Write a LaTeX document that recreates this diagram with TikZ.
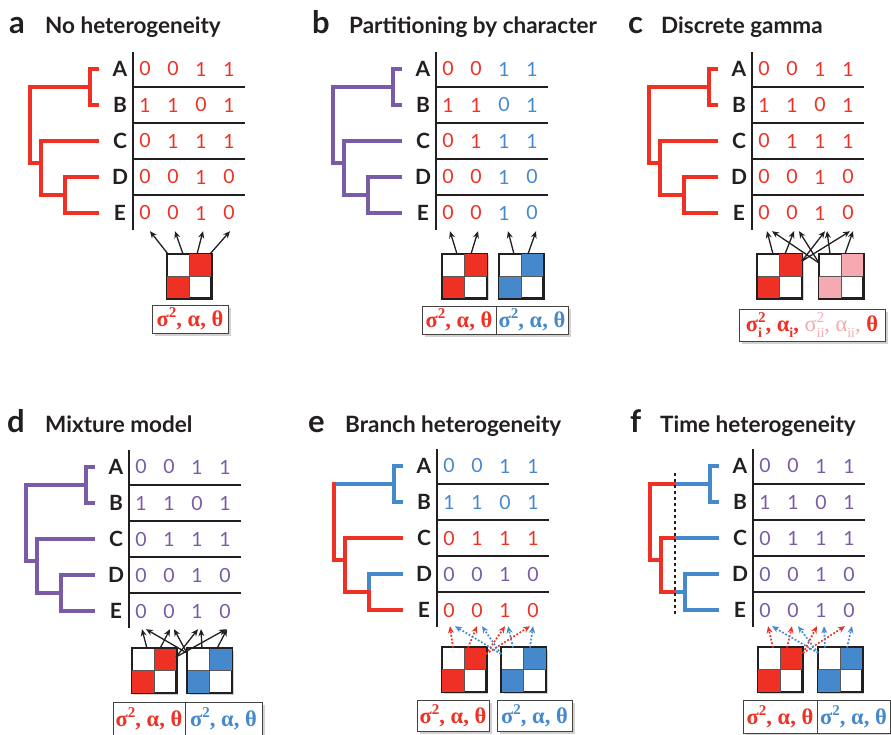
\documentclass[tikz,border=0pt]{standalone}
\usepackage{fontspec}
\setmainfont{Lato}
\newfontfamily\gfont{Liberation Serif}
\usetikzlibrary{arrows.meta,shadows}
\definecolor{ired}{RGB}{238,49,36}
\definecolor{iblue}{RGB}{69,137,204}
\definecolor{ipurple}{RGB}{122,91,168}
\definecolor{ipink}{RGB}{244,170,176}
\definecolor{ink}{RGB}{35,31,32}
\tikzset{
 tabline/.style={line width=1.2pt, draw=ink},
 treeline/.style={line width=4pt, line join=miter},
 tiplab/.style={font=\fontsize{21}{21}\selectfont\bfseries, text=ink, inner sep=0pt, anchor=center},
 digit/.style={font=\fontsize{19.5}{19.5}\selectfont, inner sep=0pt, minimum height=36pt, anchor=center},
 ptitle/.style={font=\fontsize{22.5}{22.5}\selectfont\bfseries, text=ink, inner sep=0pt, anchor=base west},
 pletter/.style={font=\fontsize{31}{31}\selectfont\bfseries, text=ink, inner sep=0pt, anchor=base west},
 qmat/.style={draw=ink, line width=1.5pt, fill=white, minimum size=44pt, inner sep=0pt,
   drop shadow={shadow xshift=2pt, shadow yshift=-2pt, opacity=0.35}},
 lbox/.style={draw=ink!85, line width=1pt, fill=white, inner sep=0pt,
   drop shadow={shadow xshift=2.5pt, shadow yshift=-2.5pt, opacity=0.35},
   font=\gfont\fontsize{22.5}{22.5}\selectfont\bfseries},
 arr/.style={draw=ink, line width=1.3pt, -{Stealth[length=7pt,width=6pt]}},
 darr/.style={line width=1.7pt, dash pattern=on 1.8pt off 1.8pt, -{Stealth[length=7pt,width=6pt]}},
}
\newcommand\sqr{\raisebox{0.42em}{\fontsize{15}{15}\selectfont 2}}
\newcommand\sbs[2]{\makebox[0pt][l]{\raisebox{-0.28em}{\fontsize{14}{14}\selectfont #1}}\raisebox{0.42em}{\fontsize{15}{15}\selectfont #2}}
\newcommand\sbo[1]{\raisebox{-0.28em}{\fontsize{14}{14}\selectfont #1}}
\newcommand\lab{σ\sqr, α, θ}
% table: #1 prefix, #2 row colours (left/right)
\newcommand\ptable[2]{%
 \draw[tabline] (0,-17) -- (0,161);
 \foreach \k in {1,...,4} \draw[tabline] (0,{36*\k-18}) -- (112,{36*\k-18});
 \foreach \L [count=\i from 0] in {A,B,C,D,E} \node[tiplab] (#1L\i) at (-13,{36*\i}) {\L};
 \foreach \lc/\rc [count=\i from 0] in {#2} {
   \ifcase\i \def\vals{0,0,1,1}\or\def\vals{1,1,0,1}\or\def\vals{0,1,1,1}\or\def\vals{0,0,1,0}\or\def\vals{0,0,1,0}\fi
   \foreach \v [count=\j] in \vals {
     \ifnum\j<3 \edef\cc{\lc}\else\edef\cc{\rc}\fi
     \node[digit, text=\cc] (#1d\i-\j) at ({28*\j-16},{36*\i}) {\v};
   }
 }
}
\newcommand\stdtree[1]{%
 \draw[treeline,#1] (-34,0) -- (-43,0) -- (-43,36) -- (-34,36);
 \draw[treeline,#1] (-43,18) -- (-103,18) -- (-103,94) -- (-92,94);
 \draw[treeline,#1] (-34,72) -- (-92,72) -- (-92,126) -- (-68,126);
 \draw[treeline,#1] (-34,108) -- (-68,108) -- (-68,144) -- (-34,144);
}
% matrix: name, x, y, colour
\newcommand\qm[4]{%
 \node[qmat] (#1) at (#2,#3) {};
 \fill[#4] (#1.north east) rectangle (#1.center);
 \fill[#4] (#1.south west) rectangle (#1.center);
 \draw[ink!75, line width=0.8pt] (#1.north) -- (#1.south) (#1.west) -- (#1.east);
 \draw[ink, line width=1.5pt] (#1.north west) rectangle (#1.south east);
}
\begin{document}
\begin{tikzpicture}[x=1pt,y=-1pt]
\fill[white] (0,0) rectangle (891,734);
\useasboundingbox (0,0) rectangle (891,734);

% titles
\node[pletter] (ta) at (9,33) {a};   \node[ptitle] (tta) at (45,33) {No heterogeneity};
\node[pletter] (tb) at (312,33) {b}; \node[ptitle] (ttb) at (349,33) {Partitioning by character};
\node[pletter] (tc) at (628,33) {c}; \node[ptitle] (ttc) at (661,33) {Discrete gamma};
\node[pletter] (td) at (7,432) {d};  \node[ptitle] (ttd) at (45,432) {Mixture model};
\node[pletter] (te) at (308,432) {e};\node[ptitle] (tte) at (345,432) {Branch heterogeneity};
\node[pletter] (tf) at (630,432) {f};\node[ptitle] (ttf) at (660,432) {Time heterogeneity};

% ---------- panel a
\begin{scope}[shift={(133,69)}]
 \stdtree{ired}
 \ptable{a}{ired/ired,ired/ired,ired/ired,ired/ired,ired/ired}
 \qm{aM}{56}{207}{ired}
 \coordinate (aS1) at (35,185); \coordinate (aS2) at (50,185);
 \coordinate (aS3) at (64,185); \coordinate (aS4) at (77,185);
 \draw[arr] (aS1) -- ([xshift=5pt]ad4-1.south);
 \draw[arr] (aS2) -- ([xshift=2pt]ad4-2.south);
 \draw[arr] (aS3) -- ([xshift=2pt]ad4-3.south);
 \draw[arr] (aS4) -- ([xshift=1pt]ad4-4.south);
 \node[lbox, minimum width=76pt, minimum height=28pt] (aP) at (57,250) {\textcolor{ired}{\lab}};
\end{scope}

% ---------- panel b
\begin{scope}[shift={(436,69)}]
 \stdtree{ipurple}
 \ptable{b}{ired/iblue,ired/iblue,ired/iblue,ired/iblue,ired/iblue}
 \qm{bM}{28.5}{207}{ired}
 \qm{bN}{85}{207}{iblue}
 \coordinate (bS1) at (21,185); \coordinate (bS2) at (35,185);
 \coordinate (bS3) at (78,185); \coordinate (bS4) at (92,185);
 \draw[arr] (bS1) -- ([xshift=2pt]bd4-1.south);
 \draw[arr] (bS2) -- ([xshift=2pt]bd4-2.south);
 \draw[arr] (bS3) -- ([xshift=4pt]bd4-3.south);
 \draw[arr] (bS4) -- ([xshift=4pt]bd4-4.south);
 \node[lbox, minimum width=74pt, minimum height=28pt] (bP) at (23,251) {\textcolor{ired}{\lab}};
 \node[lbox, minimum width=72pt, minimum height=28pt] (bQ) at (96,251) {\textcolor{iblue}{\lab}};
\end{scope}

% ---------- panel c
\begin{scope}[shift={(752,69)}]
 \stdtree{ired}
 \ptable{c}{ired/ired,ired/ired,ired/ired,ired/ired,ired/ired}
 \qm{cM}{27.5}{207}{ired}
 \qm{cN}{89}{207}{ipink}
 \coordinate (cS1) at (21,185); \coordinate (cS2) at (33,185);
 \coordinate (cS3) at (50,192);
 \coordinate (cT1) at (67,194); \coordinate (cT3) at (78,185); \coordinate (cT4) at (93,185);
 \draw[arr] (cS1) -- ([xshift=3pt]cd4-1.south);
 \draw[arr] (cS2) -- ([xshift=2pt]cd4-2.south);
 \draw[arr] (cS3) -- ([xshift=5pt]cd4-3.south);
 \draw[arr] (cS3) -- ([xshift=2pt]cd4-4.south);
 \draw[arr] (cT1) -- ([xshift=8pt]cd4-1.south);
 \draw[arr] (cT1) -- ([xshift=7pt]cd4-2.south);
 \draw[arr] (cT3) -- ([xshift=7pt]cd4-3.south);
 \draw[arr] (cT4) -- ([xshift=5pt]cd4-4.south);
 \node[lbox, minimum width=146pt, minimum height=32pt] (cP) at (60,256)
   {\textcolor{ired}{σ\sbs{i}{2}, α\sbo{i}, }\textcolor{ipink}{\mdseries σ\sbs{ii}{2}, α\sbo{ii}, }\textcolor{ired}{θ}};
\end{scope}

% ---------- panel d
\begin{scope}[shift={(129,467)}]
 \stdtree{ipurple}
 \ptable{d}{ipurple/ipurple,ipurple/ipurple,ipurple/ipurple,ipurple/ipurple,ipurple/ipurple}
 \qm{dM}{25}{203.5}{ired}
 \qm{dN}{80.5}{203.5}{iblue}
 \coordinate (dS1) at (18,181.5); \coordinate (dS2) at (31,181.5);
 \coordinate (dS3) at (47,190);
 \coordinate (dT1) at (58,186); \coordinate (dT3) at (73,181.5); \coordinate (dT4) at (88,181.5);
 \draw[arr] (dS1) -- ([xshift=1pt]dd4-1.south);
 \draw[arr] (dS2) -- ([xshift=1pt]dd4-2.south);
 \draw[arr] (dS3) -- ([xshift=1pt]dd4-3.south);
 \draw[arr] (dS3) -- ([xshift=1pt]dd4-4.south);
 \draw[arr] (dT1) -- ([xshift=5pt]dd4-1.south);
 \draw[arr] (dT1) -- ([xshift=5pt]dd4-2.south);
 \draw[arr] (dT3) -- ([xshift=4pt]dd4-3.south);
 \draw[arr] (dT4) -- ([xshift=2pt]dd4-4.south);
 \node[lbox, minimum width=72pt, minimum height=34pt] (dP) at (20,252) {\textcolor{ired}{\lab}};
 \node[lbox, minimum width=77pt, minimum height=34pt] (dQ) at (94.5,252) {\textcolor{iblue}{\lab}};
\end{scope}

% ---------- panel e
\begin{scope}[shift={(437,466)}]
 \draw[treeline,ired] (-103,16) -- (-103,94) -- (-92,94);
 \draw[treeline,ired] (-34,72) -- (-92,72) -- (-92,126) -- (-68,126) -- (-68,144) -- (-34,144);
 \draw[treeline,iblue] (-101,18) -- (-43,18);
 \draw[treeline,iblue] (-34,0) -- (-43,0) -- (-43,36) -- (-34,36);
 \draw[treeline,iblue] (-68,124) -- (-68,108) -- (-34,108);
 \ptable{e}{iblue/iblue,iblue/iblue,ired/ired,ipurple/ipurple,ired/ired}
 \qm{eM}{27}{203.5}{ired}
 \qm{eN}{86.5}{203.5}{iblue}
 \coordinate (eS1) at (16,181.5); \coordinate (eS2) at (31,181.5);
 \coordinate (eS3) at (49,188);
 \coordinate (eT1) at (64,188); \coordinate (eT3) at (76,181.5); \coordinate (eT4) at (93,181.5);
 \draw[darr,ired] (eS1) -- ([xshift=1pt,yshift=2pt]ed4-1.south);
 \draw[darr,ired] (eS2) -- ([xshift=0pt,yshift=2pt]ed4-2.south);
 \draw[darr,ired] (eS3) -- ([xshift=0pt,yshift=2pt]ed4-3.south);
 \draw[darr,ired] (eS3) -- ([xshift=-3pt,yshift=2pt]ed4-4.south);
 \draw[darr,iblue] (eT1) -- ([xshift=6pt,yshift=2pt]ed4-1.south);
 \draw[darr,iblue] (eT1) -- ([xshift=5pt,yshift=2pt]ed4-2.south);
 \draw[darr,iblue] (eT3) -- ([xshift=3pt,yshift=2pt]ed4-3.south);
 \draw[darr,iblue] (eT4) -- ([xshift=0pt,yshift=2pt]ed4-4.south);
 \node[lbox, minimum width=72pt, minimum height=31pt] (eP) at (16,250) {\textcolor{ired}{\lab}};
 \node[lbox, minimum width=75pt, minimum height=31pt] (eQ) at (97.5,250) {\textcolor{iblue}{\lab}};
\end{scope}

% ---------- panel f
\begin{scope}[shift={(753,466)}]
 \draw[treeline,iblue] (-78,18) -- (-43,18);
 \draw[treeline,iblue] (-34,0) -- (-43,0) -- (-43,36) -- (-34,36);
 \draw[treeline,iblue] (-78,72) -- (-34,72);
 \draw[treeline,iblue] (-78,126) -- (-68,126);
 \draw[treeline,iblue] (-34,108) -- (-68,108) -- (-68,144) -- (-34,144);
 \draw[treeline,ired] (-78,18) -- (-103,18) -- (-103,94) -- (-92,94);
 \draw[treeline,ired] (-78,72) -- (-92,72) -- (-92,126) -- (-78,126);
 \draw[ink, line width=2pt, dash pattern=on 3pt off 3pt] (-78,7) -- (-78,149);
 \ptable{f}{ipurple/ipurple,ipurple/ipurple,ipurple/ipurple,ipurple/ipurple,ipurple/ipurple}
 \qm{fM}{27}{203.5}{ired}
 \qm{fN}{87}{203.5}{iblue}
 \coordinate (fS1) at (20,181.5); \coordinate (fS2) at (34,181.5);
 \coordinate (fS3) at (50,187);
 \coordinate (fT1) at (65,187); \coordinate (fT3) at (72,181.5); \coordinate (fT4) at (94,181.5);
 \draw[darr,ired] (fS1) -- ([xshift=3pt,yshift=2pt]fd4-1.south);
 \draw[darr,ired] (fS2) -- ([xshift=-1pt,yshift=2pt]fd4-2.south);
 \draw[darr,ired] (fS3) -- ([xshift=-4pt,yshift=2pt]fd4-3.south);
 \draw[darr,ired] (fS3) -- ([xshift=-4pt,yshift=2pt]fd4-4.south);
 \draw[darr,iblue] (fT1) -- ([xshift=7pt,yshift=2pt]fd4-1.south);
 \draw[darr,iblue] (fT1) -- ([xshift=5pt,yshift=2pt]fd4-2.south);
 \draw[darr,iblue] (fT3) -- ([xshift=3pt,yshift=2pt]fd4-3.south);
 \draw[darr,iblue] (fT4) -- ([xshift=3pt,yshift=2pt]fd4-4.south);
 \node[lbox, minimum width=74pt, minimum height=33pt] (fP) at (27,250.5) {\textcolor{ired}{\lab}};
 \node[lbox, minimum width=73pt, minimum height=33pt] (fQ) at (100.5,250.5) {\textcolor{iblue}{\lab}};
\end{scope}
\end{tikzpicture}
\end{document}
